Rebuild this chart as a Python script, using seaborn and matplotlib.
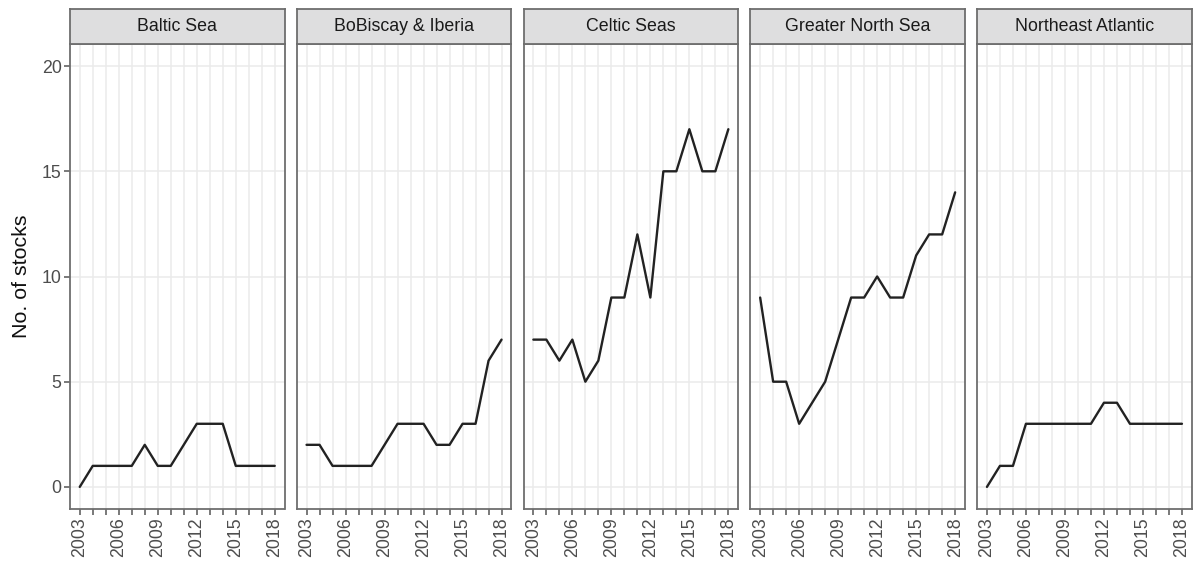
import matplotlib
matplotlib.use("Agg")
import matplotlib.pyplot as plt
import seaborn as sns
import pandas as pd

years = list(range(2003, 2019))
regions = ["Baltic Sea", "BoBiscay & Iberia", "Celtic Seas", "Greater North Sea", "Northeast Atlantic"]
baltic = [0, 1, 1, 1, 1, 2, 1, 1, 2, 3, 3, 3, 1, 1, 1, 1]
bobiscay = [2, 2, 1, 1, 1, 1, 2, 3, 3, 3, 2, 2, 3, 3, 6, 7]
celtic = [7, 7, 6, 7, 5, 6, 9, 9, 12, 9, 15, 15, 17, 15, 15, 17]
north_sea = [9, 5, 5, 3, 4, 5, 7, 9, 9, 10, 9, 9, 11, 12, 12, 14]
ne_atlantic = [0, 1, 1, 3, 3, 3, 3, 3, 3, 4, 4, 3, 3, 3, 3, 3]
y_ticks = [0, 5, 10, 15, 20]
x_labels = [2003, 2006, 2009, 2012, 2015, 2018]
y_label = "No. of stocks"

series = [baltic, bobiscay, celtic, north_sea, ne_atlantic]
df = pd.DataFrame({
    "year": years * len(regions),
    "n": sum(series, []),
    "region": sum([[r] * len(years) for r in regions], []),
})

sns.set_theme(style="white")
plt.rcParams["font.family"] = ["Liberation Sans", "DejaVu Sans"]

W, H = 1198, 563
fig = plt.figure(figsize=(W / 100, H / 100), dpi=100)

left0 = 70
pw = 214.5
gap = 12.3
top_px = 44
bot_px = 509
strip_top = 9

edge = "#6E6E6E"
grid = "#EBEBEB"
tickc = "#4D4D4D"

for i, reg in enumerate(regions):
    x0 = left0 + i * (pw + gap)
    ax = fig.add_axes([x0 / W, (H - bot_px) / H, pw / W, (bot_px - top_px) / H])
    sub = df[df["region"] == reg]
    sns.lineplot(data=sub, x="year", y="n", ax=ax, color="#222222", lw=1.7)
    ax.set_xlim(2003 - 0.75, 2018 + 0.75)
    ax.set_ylim(-1.05, 21.05)
    ax.set_xticks(years)
    ax.set_xticklabels([str(y) if y in x_labels else "" for y in years], rotation=90)
    ax.set_yticks(y_ticks)
    ax.grid(True, color=grid, lw=1.1)
    ax.set_axisbelow(True)
    ax.set_xlabel("")
    ax.set_ylabel("")
    for s in ax.spines.values():
        s.set_color(edge)
        s.set_linewidth(1.3)
    ax.tick_params(axis="x", direction="out", length=4, width=1.3, color=edge,
                   labelsize=12.8, labelcolor=tickc, pad=2, bottom=True)
    if i == 0:
        ax.tick_params(axis="y", direction="out", length=4, width=1.3, color=edge,
                       labelsize=12.8, labelcolor=tickc, pad=2, left=True)
        ax.set_yticklabels([str(v) for v in y_ticks])
        ax.set_ylabel(y_label, fontsize=15.4, color="#111111", labelpad=8)
    else:
        ax.tick_params(axis="y", left=False, labelleft=False)

    sax = fig.add_axes([x0 / W, (H - top_px) / H, pw / W, (top_px - strip_top) / H])
    sax.set_facecolor("#DEDEDF")
    sax.set_xticks([])
    sax.set_yticks([])
    for s in sax.spines.values():
        s.set_color(edge)
        s.set_linewidth(1.3)
    sax.text(0.5, 0.5, reg, ha="center", va="center", fontsize=12.8,
             color="#1A1A1A", transform=sax.transAxes)

fig.savefig("out.png", dpi=100, facecolor="white")
